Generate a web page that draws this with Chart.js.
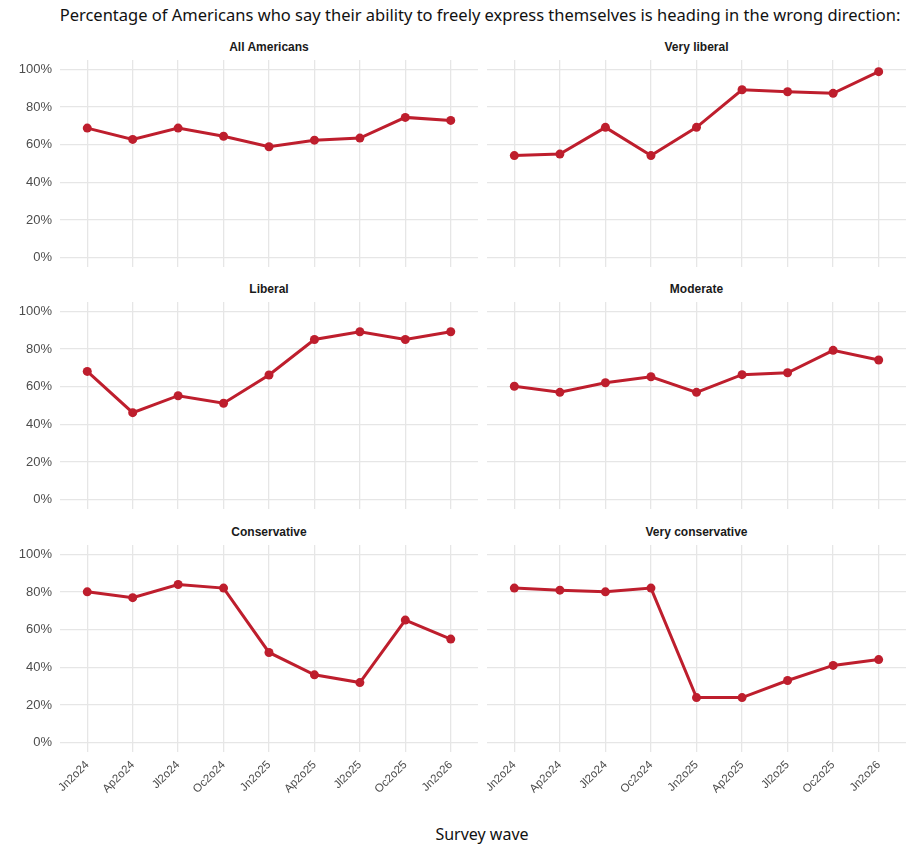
<!DOCTYPE html>
<html lang="en">
  <head>
    <meta charset="UTF-8" />
    <title>Wrong direction</title>
    <style>
      body {
        margin: 0;
        background: #fff;
        font-family: "Liberation Sans", Arial, sans-serif;
      }
      #wrap {
        position: relative;
        width: 914px;
        height: 854px;
      }
      .title {
        position: absolute;
        top: 3px;
        left: 0;
        width: 960px;
        text-align: center;
        font-family: "Noto Sans", sans-serif;
        font-size: 16.5px;
        color: #111;
        white-space: nowrap;
      }
      .panel-title {
        position: absolute;
        height: 14px;
        line-height: 14px;
        text-align: center;
        font-weight: bold;
        font-size: 12px;
        color: #1a1a1a;
      }
      .xlab {
        position: absolute;
        top: 823px;
        left: 0;
        width: 964px;
        text-align: center;
        font-family: "Noto Sans", sans-serif;
        font-size: 16px;
        color: #111;
      }
      canvas {
        position: absolute;
      }
    </style>
  </head>
  <body>
    <div id="wrap">
      <div class="title">Percentage of Americans who say their ability to freely express themselves is heading in the wrong direction:</div>
      <div class="xlab">Survey wave</div>
    </div>
    <script src="https://cdn.jsdelivr.net/npm/chart.js"></script>
    <script>
      const waves = ["Jn2o24", "Ap2o24", "Jl2o24", "Oc2o24", "Jn2o25", "Ap2o25", "Jl2o25", "Oc2o25", "Jn2o26"];
      const yTicks = [0, 20, 40, 60, 80, 100];

      const groups = ["All Americans", "Very liberal", "Liberal", "Moderate", "Conservative", "Very conservative"];
      const allAmericans = [68.8, 62.8, 68.8, 64.5, 58.9, 62.4, 63.5, 74.5, 72.9];
      const veryLiberal = [54.2, 55.0, 69.2, 54.2, 69.2, 89.2, 88.1, 87.3, 98.8];
      const liberal = [68.1, 46.2, 55.2, 51.2, 66.2, 85.1, 89.2, 85.1, 89.2];
      const moderate = [60.2, 57.0, 62.1, 65.3, 57.0, 66.4, 67.4, 79.3, 74.2];
      const conservative = [80.1, 77.0, 84.0, 82.1, 47.9, 36.0, 31.9, 65.1, 55.0];
      const veryConservative = [82.1, 81.0, 80.1, 82.1, 23.9, 23.9, 33.0, 41.0, 44.1];
      const series = [allAmericans, veryLiberal, liberal, moderate, conservative, veryConservative];

      const red = "#BE1E2D";
      const grid = "#e6e6e6";
      const rowTops = [60, 302.3, 544.5];
      const plotH = 207;

      const wrap = document.getElementById("wrap");

      groups.forEach((name, k) => {
        const row = Math.floor(k / 2);
        const col = k % 2;
        const isLeft = col === 0;
        const isBottom = row === 2;

        const left = isLeft ? 0 : 487;
        const width = isLeft ? 478 : 419;
        const height = isBottom ? plotH + 55 : plotH;
        const top = rowTops[row];

        const t = document.createElement("div");
        t.className = "panel-title";
        t.textContent = name;
        t.style.left = (isLeft ? 60 : 487) + "px";
        t.style.width = (isLeft ? 418 : 419) + "px";
        t.style.top = top - 20 + "px";
        wrap.appendChild(t);

        const cv = document.createElement("canvas");
        cv.width = width;
        cv.height = height;
        cv.style.left = left + "px";
        cv.style.top = top + "px";
        wrap.appendChild(cv);

        new Chart(cv, {
          type: "line",
          data: {
            datasets: [
              {
                data: series[k].map((v, i) => ({ x: i, y: v })),
                borderColor: red,
                backgroundColor: red,
                borderWidth: 3,
                pointRadius: 4.5,
                pointBorderWidth: 0,
                pointBackgroundColor: red,
              },
            ],
          },
          options: {
            responsive: false,
            animation: false,
            layout: { padding: 0, autoPadding: false },
            plugins: { legend: { display: false }, tooltip: { enabled: false } },
            scales: {
              x: {
                type: "linear",
                min: -0.6,
                max: 8.6,
                afterBuildTicks: (s) => {
                  s.ticks = waves.map((_, i) => ({ value: i }));
                },
                afterFit: (s) => {
                  s.height = isBottom ? 55 : 0;
                  s.paddingLeft = 0;
                  s.paddingRight = 0;
                },
                grid: { color: grid, lineWidth: 1.3, drawTicks: false },
                border: { display: false },
                ticks: {
                  display: isBottom,
                  autoSkip: false,
                  maxRotation: 45,
                  minRotation: 45,
                  padding: 6,
                  color: "#4d4d4d",
                  font: { family: "Liberation Sans", size: 11.5 },
                  callback: (v) => waves[v],
                },
              },
              y: {
                min: -5,
                max: 105,
                afterBuildTicks: (s) => {
                  s.ticks = yTicks.map((v) => ({ value: v }));
                },
                afterFit: (s) => {
                  s.width = isLeft ? 60 : 0;
                  s.paddingTop = 0;
                  s.paddingBottom = 0;
                },
                grid: { color: grid, lineWidth: 1.3, drawTicks: false },
                border: { display: false },
                ticks: {
                  display: isLeft,
                  padding: 8,
                  color: "#4d4d4d",
                  font: { family: "Liberation Sans", size: 13 },
                  callback: (v) => v + "%",
                },
              },
            },
          },
        });
      });
    </script>
  </body>
</html>
